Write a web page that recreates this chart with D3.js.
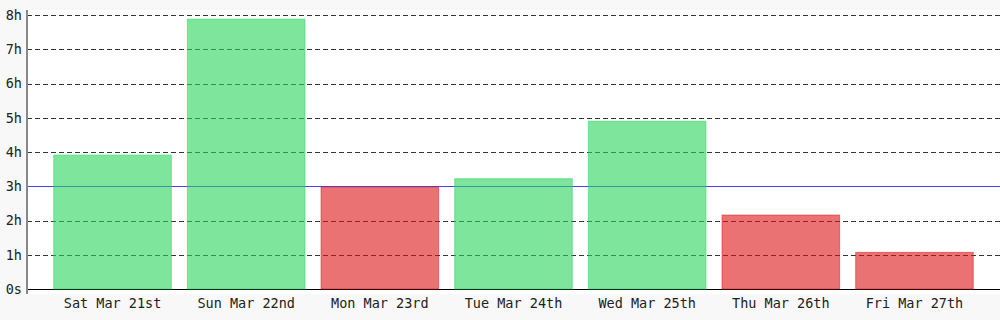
<!DOCTYPE html>
<html><head><meta charset="utf-8">
<script src="https://cdn.jsdelivr.net/npm/d3@7"></script>
<style>
html,body{margin:0;padding:0;background:#f8f8f8;}
svg{display:block;}
text{font-family:"DejaVu Sans Mono",monospace;font-size:13.5px;fill:#222;}
</style></head>
<body>
<svg id="c" width="1000" height="320"></svg>
<script>
const categories = ["Sat Mar 21st","Sun Mar 22nd","Mon Mar 23rd","Tue Mar 24th","Wed Mar 25th","Thu Mar 26th","Fri Mar 27th"];
const hours = [3.91, 7.88, 2.98, 3.22, 4.9, 2.16, 1.07];
const goal = 3;
const tickValues = [0,1,2,3,4,5,6,7,8];
const tickLabels = ["0s","1h","2h","3h","4h","5h","6h","7h","8h"];

(function(){
const svg = d3.select("#c");
const pL = 27, pR = 1000, pT = 10, pB = 294;
const x = d3.scaleBand().domain(categories).range([pL, pR]).paddingInner(0.12).paddingOuter(0.2);
const y = d3.scaleLinear().domain([0, 8]).range([289, 15]);

svg.append("rect").attr("x", pL).attr("y", pT).attr("width", pR-pL).attr("height", pB-pT).attr("fill", "#fff");

// grid
svg.append("g").selectAll("line").data(tickValues.filter(d => d !== 0 && d !== goal)).join("line")
  .attr("x1", pL).attr("x2", pR)
  .attr("y1", d => Math.round(y(d)) + 0.5).attr("y2", d => Math.round(y(d)) + 0.5)
  .attr("stroke", "#000").attr("stroke-opacity", 0.8).attr("stroke-dasharray", "5,3");

// goal line
svg.append("line").attr("x1", pL).attr("x2", pR)
  .attr("y1", Math.round(y(goal)) + 0.5).attr("y2", Math.round(y(goal)) + 0.5)
  .attr("stroke", "#4444ff").attr("stroke-width", 1);

// baseline
svg.append("line").attr("x1", pL).attr("x2", pR)
  .attr("y1", Math.round(y(0)) + 0.5).attr("y2", Math.round(y(0)) + 0.5)
  .attr("stroke", "#000");

// bars
svg.append("g").selectAll("rect").data(hours).join("rect")
  .attr("x", (d,i) => x(categories[i]))
  .attr("width", x.bandwidth())
  .attr("y", d => y(d))
  .attr("height", d => y(0) - y(d))
  .attr("fill", d => d >= goal ? "rgb(40,212,90)" : "rgb(222,20,20)")
  .attr("fill-opacity", 0.6)
  .attr("stroke", d => d >= goal ? "rgb(40,212,90)" : "rgb(222,20,20)")
  .attr("stroke-opacity", 0.5)
  .attr("stroke-width", 1);

// left axis line
svg.append("line").attr("x1", pL).attr("x2", pL).attr("y1", pT).attr("y2", pB)
  .attr("stroke", "#888").attr("stroke-width", 2);

// y axis
const yAxis = d3.axisLeft(y).tickValues(tickValues).tickFormat((d,i) => tickLabels[i]).tickSize(0).tickPadding(4);
const gy = svg.append("g").attr("transform", `translate(${pL-1},0)`).call(yAxis);
gy.select(".domain").remove();
gy.selectAll("text").attr("font-family", null).attr("font-size", null).attr("fill", null);

// x axis
const xAxis = d3.axisBottom(x).tickSize(0).tickPadding(4);
const gx = svg.append("g").attr("transform", `translate(0,${pB})`).call(xAxis);
gx.select(".domain").remove();
gx.selectAll("text").attr("font-family", null).attr("font-size", null).attr("fill", null);
})();
</script>
</body></html>
